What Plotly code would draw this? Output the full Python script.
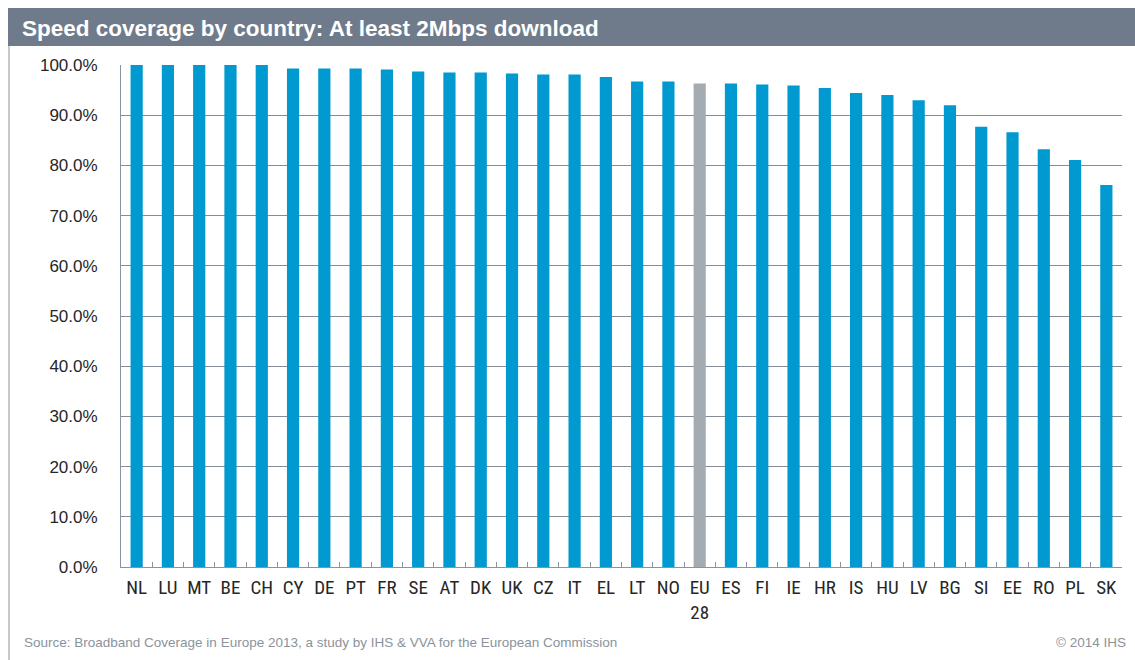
import plotly.graph_objects as go

# Share of households covered by at least 2 Mbps download, 2013
countries = ["NL", "LU", "MT", "BE", "CH", "CY", "DE", "PT", "FR", "SE", "AT",
             "DK", "UK", "CZ", "IT", "EL", "LT", "NO", "EU<br>28", "ES", "FI",
             "IE", "HR", "IS", "HU", "LV", "BG", "SI", "EE", "RO", "PL", "SK"]
coverage = [100.0, 100.0, 100.0, 100.0, 100.0, 99.3, 99.3, 99.3, 99.1, 98.7, 98.5,
            98.5, 98.3, 98.1, 98.1, 97.6, 96.7, 96.7, 96.3, 96.3, 96.1,
            95.9, 95.4, 94.4, 94.0, 93.0, 92.0, 87.7, 86.6, 83.2, 81.1, 76.1]
y_ticks = [0, 10, 20, 30, 40, 50, 60, 70, 80, 90, 100]

BLUE = "#0099d0"
GREY_BAR = "#a5acb1"
bar_colors = [GREY_BAR if c.startswith("EU") else BLUE for c in countries]

W, H = 1135, 660
ML, MR, MT, MB = 121, 13, 65, 93
pw, ph = W - ML - MR, H - MT - MB


def px_x(p):
    return (p - ML) / pw


def px_y(p):
    return 1 - (p - MT) / ph


fig = go.Figure(go.Bar(
    x=countries, y=coverage,
    marker=dict(color=bar_colors, line=dict(width=0)),
    width=0.39,
))

fig.update_layout(
    width=W, height=H,
    margin=dict(l=ML, r=MR, t=MT, b=MB),
    paper_bgcolor="white", plot_bgcolor="white",
    showlegend=False,
    font=dict(family="Arial, Liberation Sans, sans-serif", color="#333333"),
)

fig.update_yaxes(
    range=[0, 100], tickvals=y_ticks,
    ticktext=[f"{v:.1f}%" for v in y_ticks],
    showgrid=True, gridcolor="#858c95", gridwidth=1,
    showline=True, linecolor="#8794a3", linewidth=1,
    ticks="", ticklen=0, zeroline=False,
    tickfont=dict(size=17, color="#262626"),
    ticklabelstandoff=19,
)
fig.update_xaxes(
    showline=True, linecolor="#8794a3", linewidth=1,
    ticks="inside", ticklen=5, tickcolor="#8794a3", tickson="boundaries",
    showgrid=False,
    tickfont=dict(size=19, color="#262626",
                  family="Liberation Sans Narrow, Arial Narrow, Roboto Condensed, Arial"),
    tickangle=0,
    ticklabelstandoff=3,
)

shapes = [
    # title band
    dict(type="rect", xref="paper", yref="paper",
         x0=px_x(8), x1=px_x(W), y0=px_y(46), y1=px_y(8),
         fillcolor="#6f7b8a", line=dict(width=0), layer="below"),
    # left frame line
    dict(type="line", xref="paper", yref="paper",
         x0=px_x(9), x1=px_x(9), y0=px_y(46), y1=px_y(H),
         line=dict(color="#8a949f", width=1)),
]
fig.update_layout(shapes=shapes)

annotations = [
    dict(text="<b>Speed coverage by country: At least 2Mbps download</b>",
         xref="paper", yref="paper", x=px_x(20), y=px_y(28),
         xanchor="left", yanchor="middle", showarrow=False,
         font=dict(size=22.5, color="white", family="Arial, Liberation Sans")),
    dict(text="Source: Broadband Coverage in Europe 2013, a study by IHS &amp; VVA for the European Commission",
         xref="paper", yref="paper", x=px_x(22), y=px_y(642),
         xanchor="left", yanchor="middle", showarrow=False,
         font=dict(size=13.5, color="#8a939c")),
    dict(text="© 2014 IHS",
         xref="paper", yref="paper", x=px_x(1128), y=px_y(642),
         xanchor="right", yanchor="middle", showarrow=False,
         font=dict(size=13.5, color="#8a939c")),
]
fig.update_layout(annotations=annotations)

fig.write_html("out.html")
